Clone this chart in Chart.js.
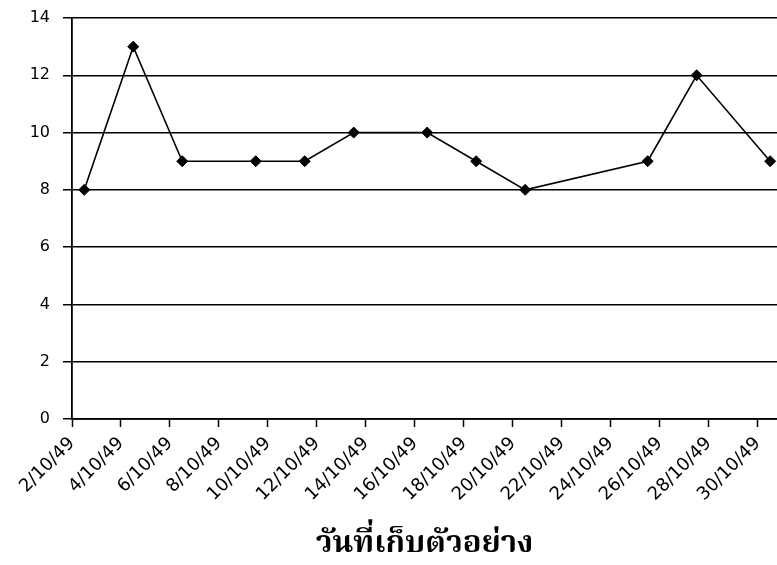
<!DOCTYPE html>
<html>
<head>
<meta charset="utf-8">
<script src="https://cdn.jsdelivr.net/npm/chart.js@4/dist/chart.umd.min.js"></script>
<style>
  html, body { margin: 0; padding: 0; background: #ffffff; overflow: hidden; }
  canvas { display: block; }
</style>
</head>
<body>
<canvas id="chart" width="777" height="565"></canvas>
<script>
// Sampling days (day of month, October 2549) and the measured values
const sampleDays = [2, 4, 6, 9, 11, 13, 16, 18, 20, 25, 27, 30];
const sampleValues = [8, 13, 9, 9, 9, 10, 10, 9, 8, 9, 12, 9];

// Axis labels, one every second day
const tickLabels = ['2/10/49', '4/10/49', '6/10/49', '8/10/49', '10/10/49', '12/10/49',
  '14/10/49', '16/10/49', '18/10/49', '20/10/49', '22/10/49', '24/10/49',
  '26/10/49', '28/10/49', '30/10/49'];
const tickDays = tickLabels.map(s => parseInt(s.split('/')[0], 10));

const axisTitle = 'วันที่เก็บตัวอย่าง';

// each day occupies one slot; the tick sits on the left edge of its day's slot
const points = sampleDays.map((d, i) => ({ x: d, y: sampleValues[i] }));
const tickValues = tickDays.map(d => d - 0.5);
const labelAt = new Map(tickValues.map((v, i) => [v, tickLabels[i]]));

const yTickFont = { family: '"DejaVu Sans", Arial, sans-serif', size: 16 };
const xTickFont = { family: '"DejaVu Sans", Arial, sans-serif', size: 18 };

new Chart(document.getElementById('chart'), {
  type: 'line',
  data: {
    datasets: [{
      data: points,
      borderColor: '#000000',
      borderWidth: 1.6,
      backgroundColor: '#000000',
      pointStyle: 'rectRot',
      pointRadius: 5.5,
      pointBorderWidth: 1,
      pointBackgroundColor: '#000000',
      pointBorderColor: '#000000',
      tension: 0,
      clip: false
    }]
  },
  options: {
    responsive: false,
    animation: false,
    events: [],
    layout: { autoPadding: false, padding: { top: 18, right: 0, bottom: 0, left: 0 } },
    plugins: { legend: { display: false }, tooltip: { enabled: false } },
    scales: {
      x: {
        type: 'linear',
        min: tickValues[0],
        max: 30.28,
        afterBuildTicks(scale) {
          scale.ticks = tickValues.map(v => ({ value: v }));
        },
        afterFit(scale) {
          scale.height = 146;
          scale.paddingLeft = 0;
          scale.paddingRight = 0;
        },
        ticks: {
          autoSkip: false,
          minRotation: 45,
          maxRotation: 45,
          padding: 6,
          color: '#000000',
          font: xTickFont,
          callback: v => labelAt.get(v) || ''
        },
        grid: {
          display: true,
          drawOnChartArea: false,
          drawTicks: true,
          tickLength: 8,
          tickWidth: 1.5,
          tickColor: '#000000'
        },
        border: { display: true, color: '#000000', width: 1.8 },
        title: {
          display: true,
          text: axisTitle,
          color: '#000000',
          font: { family: '"Noto Serif Thai", "Noto Sans Thai", serif', size: 31, weight: 'bold' },
          padding: { top: 0, bottom: 0 }
        }
      },
      y: {
        min: 0,
        max: 14,
        afterFit(scale) {
          scale.width = 72;
          scale.paddingTop = 0;
          scale.paddingBottom = 0;
        },
        ticks: {
          stepSize: 2,
          padding: 13,
          color: '#000000',
          font: yTickFont
        },
        grid: {
          color: '#000000',
          lineWidth: 1.5,
          tickLength: 9,
          tickColor: '#000000',
          tickWidth: 1.5
        },
        border: { display: true, color: '#000000', width: 1.8 }
      }
    }
  }
});
</script>
</body>
</html>
